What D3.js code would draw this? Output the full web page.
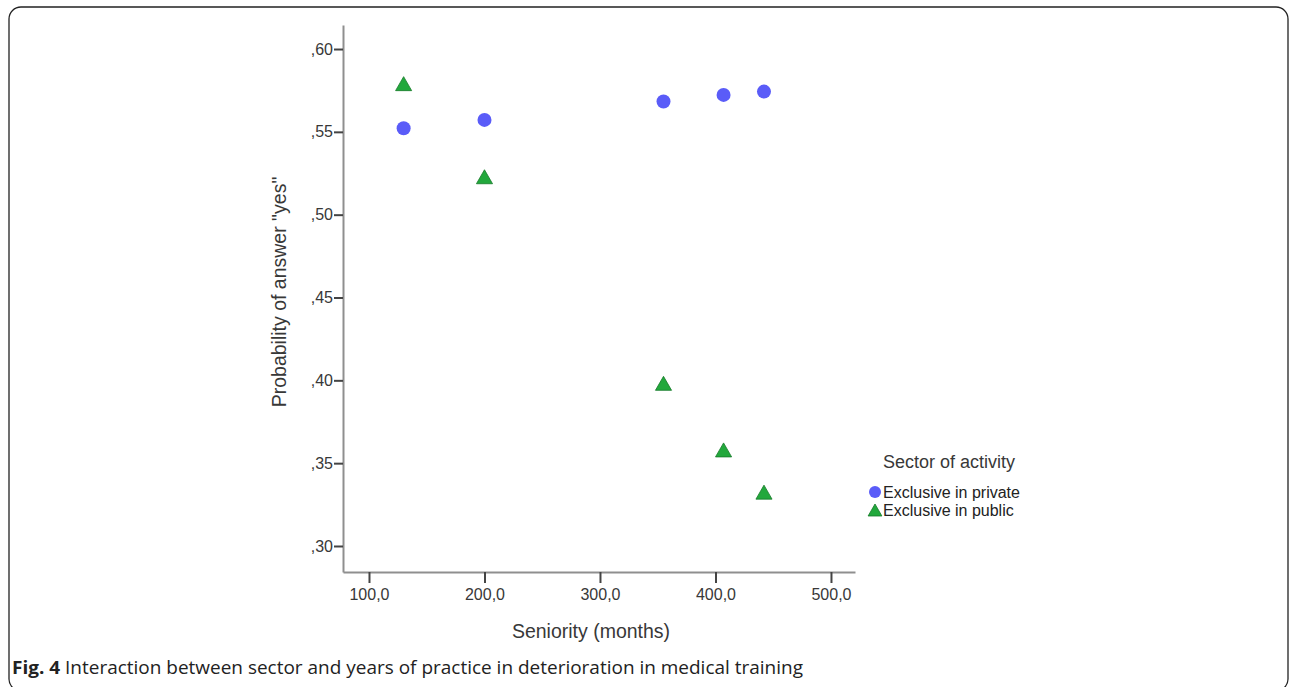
<!DOCTYPE html>
<html><head><meta charset="utf-8">
<script src="https://cdn.jsdelivr.net/npm/d3@7"></script>
<style>body{margin:0;background:#fff}svg{display:block}</style>
</head><body>
<svg id="c" width="1292" height="687"></svg>
<script>
const xTicks = [100, 200, 300, 400, 500];
const yTicks = [0.30, 0.35, 0.40, 0.45, 0.50, 0.55, 0.60];
const seniority = [130, 200, 355, 407, 442];
const privateVals = [0.5522, 0.5572, 0.5683, 0.5723, 0.5743];
const publicVals = [0.5791, 0.5229, 0.3982, 0.3580, 0.3325];
const seriesNames = ["Exclusive in private", "Exclusive in public"];
const legendTitle = "Sector of activity";
const xTitle = "Seniority (months)";
const yTitle = "Probability of answer \"yes\"";
const captionBold = "Fig. 4";
const captionText = " Interaction between sector and years of practice in deterioration in medical training";

const svg = d3.select("#c");
const font = "'Liberation Sans', Arial, sans-serif";
const textCol = "#383838";

// frame
svg.append("rect").attr("x", 9).attr("y", 7).attr("width", 1279).attr("height", 684)
  .attr("rx", 12).attr("fill", "none").attr("stroke", "#222").attr("stroke-width", 1.3);

const x = d3.scaleLinear().domain([77.5, 520.8]).range([343, 855]);
const y = d3.scaleLinear().domain([0.2843, 0.6145]).range([572, 25]);

const fmtX = d => d3.format(".1f")(d).replace(".", ",");
const fmtY = d => d3.format(".2f")(d).replace("0.", ",");

const gx = svg.append("g").attr("transform", "translate(0,572)")
  .call(d3.axisBottom(x).tickValues(xTicks).tickFormat(fmtX).tickSize(11).tickSizeOuter(0).tickPadding(6));
const gy = svg.append("g").attr("transform", "translate(343,0)")
  .call(d3.axisLeft(y).tickValues(yTicks).tickFormat(fmtY).tickSize(9).tickSizeOuter(0).tickPadding(1));
[gx, gy].forEach(g => {
  g.select(".domain").attr("stroke", "#8f8f8f").attr("stroke-width", 2);
  g.selectAll(".tick line").attr("stroke", "#444").attr("stroke-width", 2);
  g.selectAll(".tick text").attr("fill", textCol).style("font-family", font).style("font-size", "16px");
});

svg.append("text").attr("x", 591).attr("y", 638).attr("text-anchor", "middle")
  .attr("fill", textCol).style("font-family", font).style("font-size", "19.5px").text(xTitle);
svg.append("text").attr("transform", "translate(286,292) rotate(-90)").attr("text-anchor", "middle")
  .attr("fill", textCol).style("font-family", font).style("font-size", "19.5px").text(yTitle);

// triangle symbol centered on its bounding box
const tri = { draw(ctx, size) { const h = Math.sqrt(size), w = h * 1.15;
  ctx.moveTo(0, -h / 2); ctx.lineTo(w / 2, h / 2); ctx.lineTo(-w / 2, h / 2); ctx.closePath(); } };

const blue = "#5a5cf8", green = "#22a83c", greenStroke = "#157a28";

svg.append("g").selectAll("circle").data(seniority).join("circle")
  .attr("cx", d => x(d)).attr("cy", (d, i) => y(privateVals[i])).attr("r", 7).attr("fill", blue);
svg.append("g").selectAll("path").data(seniority).join("path")
  .attr("transform", (d, i) => `translate(${x(d)},${y(publicVals[i])})`)
  .attr("d", d3.symbol().type(tri).size(14 * 14)).attr("fill", green)
  .attr("stroke", greenStroke).attr("stroke-width", 0.8);

// legend
svg.append("text").attr("x", 883).attr("y", 468).attr("fill", textCol)
  .style("font-family", font).style("font-size", "18px").text(legendTitle);
const lg = svg.append("g");
lg.append("circle").attr("cx", 875).attr("cy", 492).attr("r", 6).attr("fill", blue);
lg.append("path").attr("transform", "translate(875,510)").attr("d", d3.symbol().type(tri).size(12 * 12))
  .attr("fill", green).attr("stroke", greenStroke).attr("stroke-width", 0.8);
seriesNames.forEach((n, i) => lg.append("text").attr("x", 883).attr("y", 498 + i * 18)
  .attr("fill", "#222").style("font-family", font).style("font-size", "16px").text(n));

// caption
const cap = svg.append("text").attr("x", 12).attr("y", 674).attr("fill", "#222")
  .style("font-family", "'Open Sans', sans-serif").style("font-size", "18px")
  .attr("textLength", 791).attr("lengthAdjust", "spacingAndGlyphs");
cap.append("tspan").attr("font-weight", "bold").text(captionBold);
cap.append("tspan").text(captionText);
</script>
</body></html>
